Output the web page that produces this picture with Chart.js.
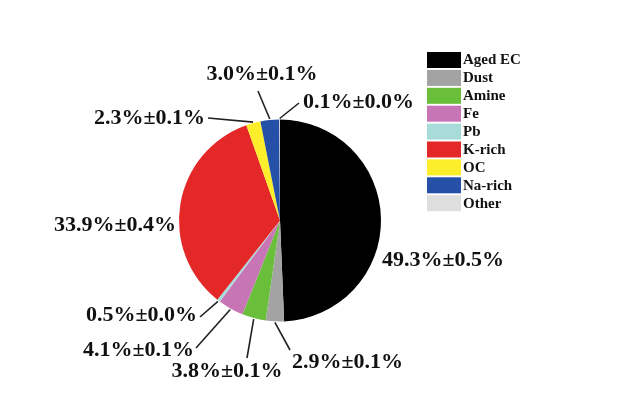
<!DOCTYPE html>
<html>
<head>
<meta charset="utf-8">
<script src="https://cdn.jsdelivr.net/npm/chart.js@4"></script>
<style>
  html, body { margin: 0; padding: 0; background: #fff; }
  #wrap { width: 626px; height: 402px; }
</style>
</head>
<body>
<div id="wrap"><canvas id="pie-chart" width="626" height="402"></canvas></div>
<script>
const labels = ['Aged EC', 'Dust', 'Amine', 'Fe', 'Pb', 'K-rich', 'OC', 'Na-rich', 'Other']
const shares = [49.3, 2.9, 3.8, 4.1, 0.5, 33.9, 2.3, 3.0, 0.1]
const errors = [0.5, 0.1, 0.1, 0.1, 0.0, 0.4, 0.1, 0.1, 0.0]

const colors = ['#000000', '#a3a3a3', '#6abf3a', '#c875b5', '#a8dcda', '#e42727', '#fcee2a', '#2550a8', '#dedede']

// where each slice label sits, and where its leader line ends (null = no line)
const labelSpots = [
  { x: 382, y: 260, align: 'left', line: null },
  { x: 292, y: 362, align: 'left', line: [290, 350] },
  { x: 227, y: 371, align: 'center', line: [247, 358] },
  { x: 194, y: 350, align: 'right', line: [196, 348] },
  { x: 197, y: 315, align: 'right', line: [200, 317] },
  { x: 176, y: 225, align: 'right', line: null },
  { x: 205, y: 118, align: 'right', line: [208, 118] },
  { x: 262, y: 74, align: 'center', line: [258, 91] },
  { x: 303, y: 102, align: 'left', line: [299, 103] }
]

const labelFont = 'bold 22px "Liberation Serif", "DejaVu Serif", serif'

const sliceLabels = {
  id: 'sliceLabels',
  afterDatasetsDraw(chart) {
    const c = chart.ctx
    const arcs = chart.getDatasetMeta(0).data
    c.save()
    arcs.forEach((arc, i) => {
      const spot = labelSpots[i]
      if (spot.line) {
        const mid = (arc.startAngle + arc.endAngle) / 2
        const r = arc.outerRadius + 1
        c.beginPath()
        c.moveTo(arc.x + Math.cos(mid) * r, arc.y + Math.sin(mid) * r)
        c.lineTo(spot.line[0], spot.line[1])
        c.strokeStyle = '#222'
        c.lineWidth = 1.6
        c.stroke()
      }
      c.font = labelFont
      c.fillStyle = '#111'
      c.textAlign = spot.align
      c.textBaseline = 'middle'
      c.fillText(shares[i].toFixed(1) + '%±' + errors[i].toFixed(1) + '%', spot.x, spot.y)
    })
    c.restore()
  }
}

const boxLegend = {
  id: 'boxLegend',
  afterDraw(chart) {
    const c = chart.ctx
    c.save()
    labels.forEach((name, i) => {
      const top = 52 + i * 17.9
      c.fillStyle = colors[i]
      c.fillRect(427, top, 34, 16)
      c.font = 'bold 15px "Liberation Serif", "DejaVu Serif", serif'
      c.fillStyle = '#111'
      c.textAlign = 'left'
      c.textBaseline = 'middle'
      c.fillText(name, 463, top + 8.5)
    })
    c.restore()
  }
}

const ctx = document.getElementById('pie-chart').getContext('2d')

new Chart(ctx, {
  type: 'pie',
  data: {
    labels: labels,
    datasets: [{
      data: shares,
      backgroundColor: colors,
      borderWidth: 0
    }]
  },
  options: {
    responsive: false,
    animation: false,
    layout: {
      padding: { left: 179, right: 245, top: 119, bottom: 80 }
    },
    plugins: {
      legend: { display: false },
      tooltip: { enabled: false }
    }
  },
  plugins: [sliceLabels, boxLegend]
})
</script>
</body>
</html>
